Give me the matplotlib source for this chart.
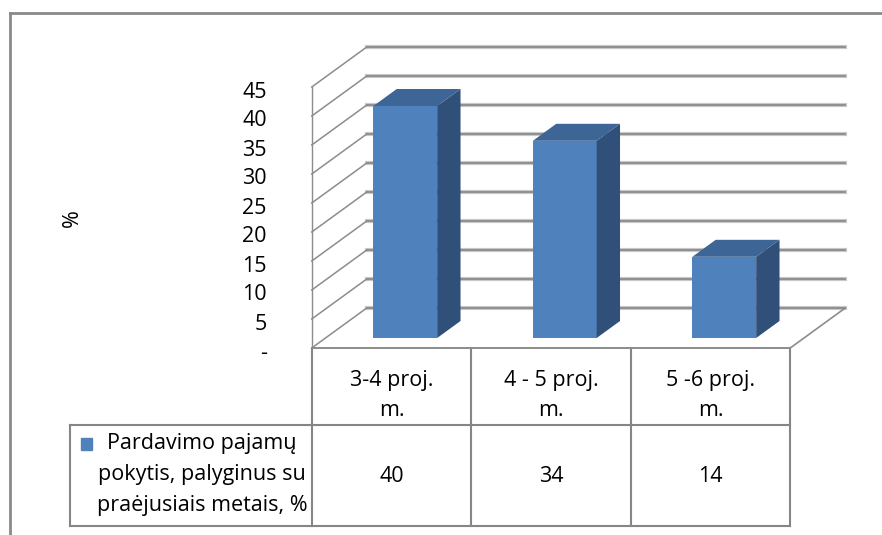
import matplotlib
matplotlib.use("Agg")
import matplotlib.pyplot as plt
from matplotlib.patches import Polygon, Rectangle
from matplotlib.transforms import offset_copy

categories = ["3-4 proj.\nm.", "4 - 5 proj.\nm.", "5 -6 proj.\nm."]
values = [40, 34, 14]
series_name = "Pardavimo pajamų\npokytis, palyginus su\npraėjusiais metais, %"
y_ticks = [0, 5, 10, 15, 20, 25, 30, 35, 40, 45]
y_tick_labels = ["-", "5", "10", "15", "20", "25", "30", "35", "40", "45"]
y_label = "%"

W, H = 882, 535
plt.rcParams["font.family"] = ["Open Sans", "DejaVu Sans"]
FS = 15.5
LS = 1.62

# pixel layout of the chart
ORIGIN_X, ORIGIN_Y = 391.5, 348   # front floor, centre of first category, value 0
CAT_PX, UNIT_PX = 159.5, 5.8
DEPTH_DX, DEPTH_DY = 55, 40       # px shift from front to back wall

dx = DEPTH_DX / CAT_PX
dy = DEPTH_DY / UNIT_PX

fig = plt.figure(figsize=(W / 100, H / 100), dpi=100)

# overlay in pixel coordinates for frame and table
over = fig.add_axes([0, 0, 1, 1])
over.set_xlim(0, W)
over.set_ylim(H, 0)
over.axis("off")

ax = fig.add_axes([0, 0, 1, 1])
ax.set_xlim(-ORIGIN_X / CAT_PX, (W - ORIGIN_X) / CAT_PX)
ax.set_ylim((ORIGIN_Y - H) / UNIT_PX, ORIGIN_Y / UNIT_PX)
ax.axis("off")
ax.patch.set_alpha(0)

grid_c = "#8c8c8c"
n = len(categories)
x0, x1 = -0.5, n - 0.5

# back wall gridlines and left wall
for v in y_ticks:
    ax.plot([x0 + dx, x1 + dx], [v + dy, v + dy], color="#c8c8c8", lw=3.0, zorder=1)
    ax.plot([x0 + dx, x1 + dx], [v + dy, v + dy], color=grid_c, lw=1.3, zorder=1)
    ax.plot([x0, x0 + dx], [v, v + dy], color=grid_c, lw=1.1, zorder=1)
ax.plot([x0, x0], [0, max(y_ticks)], color=grid_c, lw=1.0, zorder=1)
# floor
ax.plot([x0, x1], [0, 0], color=grid_c, lw=1.4, zorder=1)
ax.plot([x1, x1 + dx], [0, dy], color=grid_c, lw=1.2, zorder=1)

# tick labels
lab_tr = offset_copy(ax.transData, fig=fig, x=-45, y=-5, units="dots")
for v, lab in zip(y_ticks, y_tick_labels):
    ax.text(x0, v, lab, transform=lab_tr, ha="right", va="center", fontsize=FS)

# bars with fake depth
z0, z1 = 0.25, 0.675
bw = 0.4
front_c, top_c, side_c = "#4F81BD", "#3D6596", "#30507A"
xs = [i + z0 * dx for i in range(n)]
ax.bar(xs, values, width=bw, bottom=z0 * dy, color=front_c, zorder=3)
ddx = (z1 - z0) * dx
ddy = (z1 - z0) * dy
for xc, v in zip(xs, values):
    l, r = xc - bw / 2, xc + bw / 2
    b, t = z0 * dy, z0 * dy + v
    ax.add_patch(Polygon([(r, b), (r + ddx, b + ddy), (r + ddx, t + ddy), (r, t)],
                         closed=True, color=side_c, zorder=3, lw=0))
    ax.add_patch(Polygon([(l, t), (r, t), (r + ddx, t + ddy), (l + ddx, t + ddy)],
                         closed=True, color=top_c, zorder=3, lw=0))

# outer frame
frame_c = "#8a8a8a"
over.plot([10, W], [13, 13], color=frame_c, lw=2)
over.plot([10, 10], [13, H], color=frame_c, lw=2)

# data table
tbl_c = "#868686"
col_edges = [ORIGIN_X + CAT_PX * (i - 0.5) for i in range(n + 1)]
row_top, row_mid, row_bot = ORIGIN_Y, 425, 526
leg_left = 70
for xe in col_edges:
    over.plot([xe, xe], [row_top, row_bot], color=tbl_c, lw=1.5)
over.plot([leg_left, leg_left], [row_mid, row_bot], color=tbl_c, lw=1.5)
over.plot([leg_left, col_edges[-1]], [row_mid, row_mid], color=tbl_c, lw=1.5)
over.plot([leg_left, col_edges[-1]], [row_bot, row_bot], color=tbl_c, lw=1.5)

for i, (cat, v) in enumerate(zip(categories, values)):
    cx = ORIGIN_X + CAT_PX * i
    over.text(cx, (row_top + row_mid) / 2 + 9, cat, ha="center", va="center",
              fontsize=FS, linespacing=LS)
    over.text(cx, (row_mid + row_bot) / 2 + 1, str(v), ha="center", va="center",
              fontsize=FS)

over.add_patch(Rectangle((81, 438), 11, 12, color=front_c))
over.text(202, (row_mid + row_bot) / 2 - 1, series_name, ha="center", va="center",
          fontsize=FS, linespacing=LS)

over.text(72, 218, y_label, rotation=90, ha="center", va="center", fontsize=FS)

fig.savefig("out.png", dpi=100)
